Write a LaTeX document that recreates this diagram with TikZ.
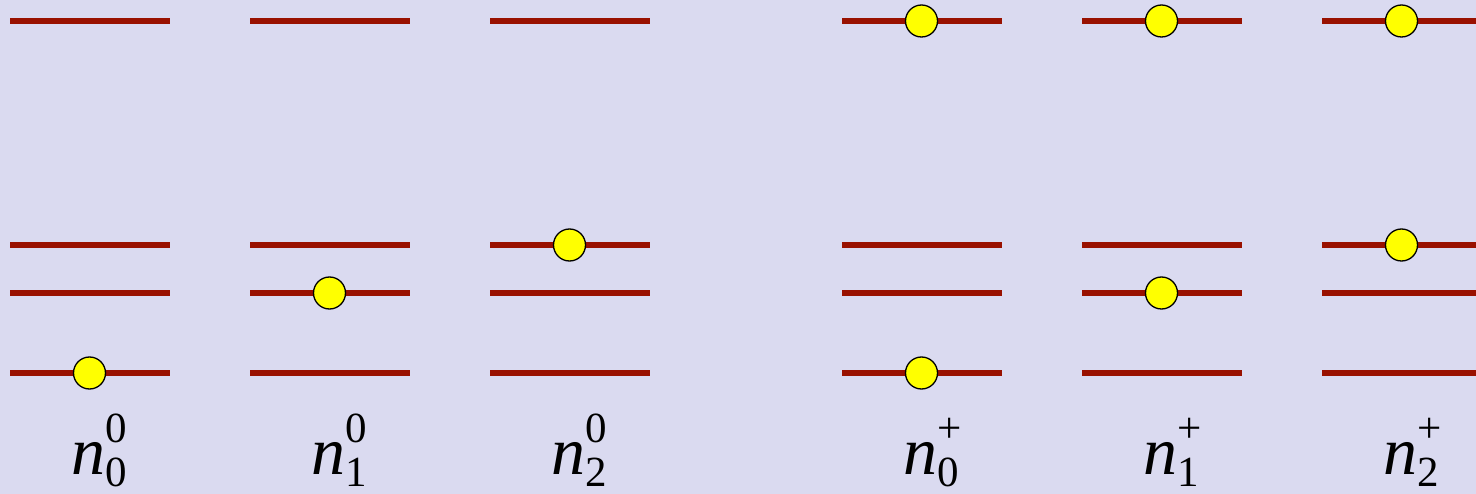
\documentclass[tikz,border=0pt]{standalone}
\usepackage{fontspec}
\setmainfont{Liberation Serif}
\definecolor{bgcol}{RGB}{218,218,240}
\definecolor{levelcol}{RGB}{153,17,0}
\definecolor{elecol}{RGB}{255,255,0}
\tikzset{
  level/.style={draw=levelcol, line width=5.5pt},
  electron/.style={circle, fill=elecol, draw=black, line width=1.3pt, minimum size=32pt, inner sep=0pt},
  lab/.style={anchor=base west, inner sep=0pt, outer sep=0pt}
}
\newcommand{\occlab}[2]{{\fontsize{68}{68}\selectfont\itshape n\upshape\fontsize{43}{43}\selectfont\rlap{\raisebox{32pt}{#1}}\raisebox{-12pt}{#2}}}
\begin{document}
\begin{tikzpicture}[x=1pt,y=-1pt]
\useasboundingbox (0,0) rectangle (1476,494);
\clip (0,0) rectangle (1476,494);
\fill[bgcol] (0,0) rectangle (1476,494);
% levels
\foreach \g/\xs in {0/10,1/250,2/490,3/842,4/1082,5/1322}{
  \foreach \l/\yy in {a/21,b/245,c/293,d/373}{
    \coordinate (L\g\l w) at (\xs,\yy);
    \coordinate (L\g\l e) at (\xs+160,\yy);
    \draw[level] (L\g\l w) -- (L\g\l e);
  }
}
% electrons
\foreach \g/\xs/\yy [count=\i] in {0/10/373,1/250/293,2/490/245,3/842/21,3/842/373,4/1082/21,4/1082/293,5/1322/21,5/1322/245}{
  \node[electron] (e\i) at (\xs+79.5,\yy) {};
}
% labels
\node[lab] (n00) at (71,474) {\occlab{0}{0}};
\node[lab] (n10) at (311,474) {\occlab{0}{1}};
\node[lab] (n20) at (551,474) {\occlab{0}{2}};
\node[lab] (n0p) at (903,474.5) {\occlab{+}{0}};
\node[lab] (n1p) at (1143,474.5) {\occlab{+}{1}};
\node[lab] (n2p) at (1383,474.5) {\occlab{+}{2}};
\end{tikzpicture}
\end{document}
